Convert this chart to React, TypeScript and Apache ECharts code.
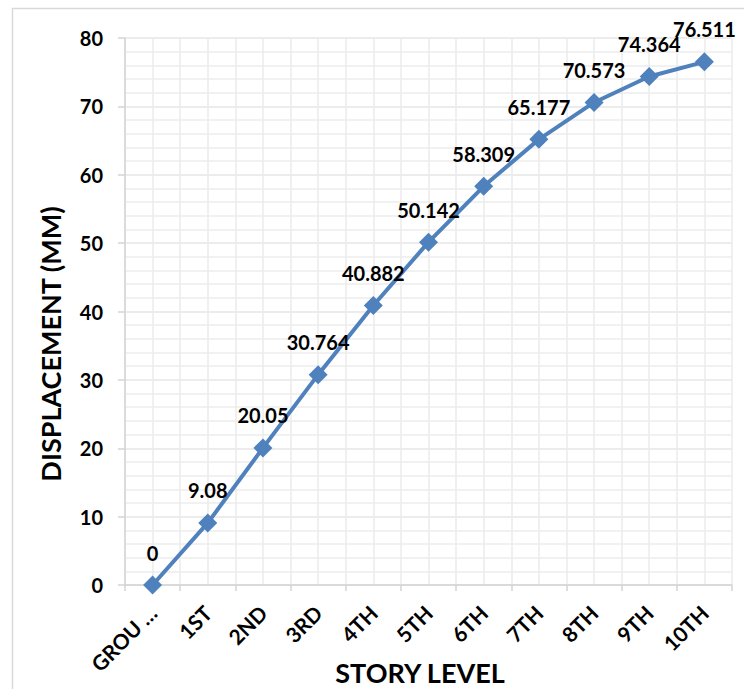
import React, { useEffect, useRef } from "react";
import * as echarts from "echarts";

const categories = ["GROUND", "1ST", "2ND", "3RD", "4TH", "5TH", "6TH", "7TH", "8TH", "9TH", "10TH"];
const displacement = [0, 9.08, 20.05, 30.764, 40.882, 50.142, 58.309, 65.177, 70.573, 74.364, 76.511];
const yTicks = { min: 0, max: 80, interval: 10 };
const yTitle = "DISPLACEMENT (MM)";
const xTitle = "STORY LEVEL";

export default function App() {
  const ref = useRef<HTMLDivElement>(null);
  useEffect(() => {
    if (!ref.current) return;
    const chart = echarts.init(ref.current, null, { renderer: "svg" });
    const halfCats = categories.flatMap((c) => [c + "-a", c + "-b"]);
    const font = "Lato";
    chart.setOption({
      animation: false,
      backgroundColor: "#ffffff",
      grid: { left: 125, right: 12, top: 38, bottom: 104, containLabel: false },
      xAxis: [
        {
          type: "category",
          data: categories,
          boundaryGap: true,
          axisLine: { show: true, lineStyle: { color: "#d4d4d4", width: 1.5 } },
          axisTick: { show: true, length: 6, lineStyle: { color: "#d4d4d4", width: 1.5 } },
          splitLine: { show: false },
          axisLabel: {
            interval: 0,
            rotate: 45,
            margin: 24,
            color: "#000",
            fontFamily: font,
            fontWeight: "bold",
            fontSize: 21,
            formatter: (v: string) => (v.length > 4 ? v.slice(0, 4) + " …" : v),
          },
        },
        {
          type: "category",
          data: halfCats,
          boundaryGap: true,
          position: "top",
          axisLine: { show: false },
          axisTick: { show: false },
          axisLabel: { show: false },
          splitLine: { show: true, interval: 0, lineStyle: { color: "#ebebeb", width: 1.5 } },
        },
      ],
      yAxis: {
        type: "value",
        min: yTicks.min,
        max: yTicks.max,
        interval: yTicks.interval,
        axisLine: { show: true, lineStyle: { color: "#d4d4d4", width: 1.5 } },
        axisTick: { show: true, length: 7, inside: false, lineStyle: { color: "#d4d4d4", width: 1.5 } },
        minorTick: { show: false, splitNumber: 5 },
        minorSplitLine: { show: true, lineStyle: { color: "#ededed", width: 1.5 } },
        splitLine: { show: true, lineStyle: { color: "#e6e6e6", width: 1.5 } },
        axisLabel: {
          margin: 22,
          color: "#000",
          fontFamily: font,
          fontWeight: "bold",
          fontSize: 20,
        },
      },
      graphic: [
        {
          type: "rect",
          silent: true,
          shape: { x: 12.5, y: 8.5, width: 800, height: 800 },
          style: { fill: "none", stroke: "#d9d9d9", lineWidth: 1.5 },
        },
        {
          type: "text",
          x: 50,
          y: 344,
          rotation: Math.PI / 2,
          style: {
            text: yTitle,
            fill: "#000",
            font: `bold 27px ${font}`,
            align: "center",
            verticalAlign: "middle",
          },
        },
        {
          type: "text",
          x: 420,
          y: 672,
          style: {
            text: xTitle,
            fill: "#000",
            font: `bold 27px ${font}`,
            align: "center",
            verticalAlign: "middle",
          },
        },
      ],
      series: [
        {
          type: "line",
          data: displacement,
          xAxisIndex: 0,
          symbol: "diamond",
          symbolSize: 19,
          lineStyle: { color: "#4f81bd", width: 4 },
          itemStyle: { color: "#4f81bd" },
          label: {
            show: true,
            position: "top",
            distance: 13,
            color: "#000",
            fontFamily: font,
            fontWeight: "bold",
            fontSize: 20,
          },
        },
      ],
    });
    return () => chart.dispose();
  }, []);
  return (
    <div
      ref={ref}
      style={{ position: "absolute", left: 0, top: 0, width: 744, height: 689 }}
    />
  );
}
